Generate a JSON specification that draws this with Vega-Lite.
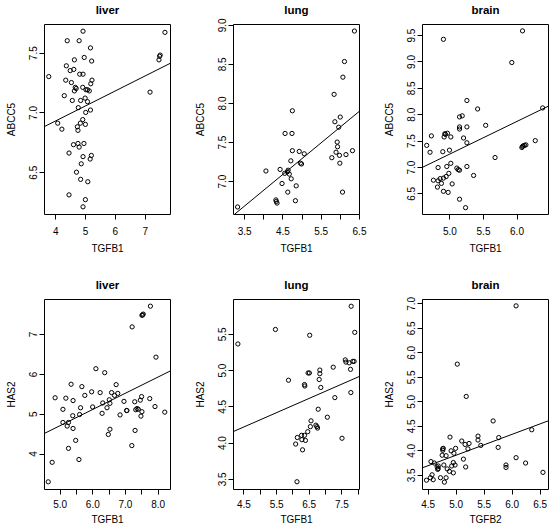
{
"$schema": "https://vega.github.io/schema/vega-lite/v6.json",
"padding": {"left": 5, "top": 3, "right": 0, "bottom": 0},
"background": "white",
"config": {
 "font": "Liberation Sans",
 "view": {"stroke": "black", "strokeWidth": 1},
 "axis": {"domain": false, "grid": false, "tickColor": "black", "tickSize": 5, "tickWidth": 1, "labelFont": "Liberation Sans", "labelFontSize": 10, "labelColor": "black", "titleFont": "Liberation Sans", "titleFontSize": 10, "titleFontWeight": "normal", "titleColor": "black", "labelOverlap": false, "labelFlush": false},
 "axisY": {"labelAngle": 270, "labelAlign": "center", "labelBaseline": "bottom", "labelPadding": 1, "titlePadding": 12},
 "axisX": {"labelPadding": 7, "titlePadding": 7.5},
 "axisTop": {"labels": false, "ticks": false, "tickSize": 0, "titleFontSize": 11.5, "titleFontWeight": "bold", "titleBaseline": "alphabetic", "titlePadding": 11}
},
"datasets": {
 "liver_ABCC5": [
  {"TGFB1":3.78,"ABCC5":7.30},{"TGFB1":4.40,"ABCC5":7.60},{"TGFB1":4.80,"ABCC5":7.60},{"TGFB1":4.93,"ABCC5":7.68},{"TGFB1":5.18,"ABCC5":7.54},{"TGFB1":4.64,"ABCC5":7.44},{"TGFB1":4.97,"ABCC5":7.46},{"TGFB1":5.22,"ABCC5":7.43},{"TGFB1":4.37,"ABCC5":7.39},{"TGFB1":4.50,"ABCC5":7.35},{"TGFB1":4.62,"ABCC5":7.36},{"TGFB1":4.82,"ABCC5":7.32},{"TGFB1":4.93,"ABCC5":7.32},{"TGFB1":4.35,"ABCC5":7.27},{"TGFB1":4.54,"ABCC5":7.25},{"TGFB1":5.23,"ABCC5":7.27},{"TGFB1":5.19,"ABCC5":7.24},{"TGFB1":4.67,"ABCC5":7.21},{"TGFB1":4.70,"ABCC5":7.20},{"TGFB1":4.92,"ABCC5":7.21},{"TGFB1":5.03,"ABCC5":7.19},{"TGFB1":5.08,"ABCC5":7.19},{"TGFB1":5.14,"ABCC5":7.18},{"TGFB1":4.64,"ABCC5":7.18},{"TGFB1":4.30,"ABCC5":7.14},{"TGFB1":4.57,"ABCC5":7.10},{"TGFB1":4.85,"ABCC5":7.10},{"TGFB1":5.00,"ABCC5":7.12},{"TGFB1":5.08,"ABCC5":7.09},{"TGFB1":4.77,"ABCC5":7.04},{"TGFB1":5.18,"ABCC5":7.02},{"TGFB1":5.02,"ABCC5":7.00},{"TGFB1":4.92,"ABCC5":6.94},{"TGFB1":4.84,"ABCC5":6.91},{"TGFB1":5.01,"ABCC5":6.90},{"TGFB1":4.08,"ABCC5":6.91},{"TGFB1":4.74,"ABCC5":6.88},{"TGFB1":4.22,"ABCC5":6.86},{"TGFB1":4.76,"ABCC5":6.85},{"TGFB1":4.61,"ABCC5":6.73},{"TGFB1":4.76,"ABCC5":6.74},{"TGFB1":4.80,"ABCC5":6.71},{"TGFB1":4.96,"ABCC5":6.74},{"TGFB1":4.46,"ABCC5":6.66},{"TGFB1":4.93,"ABCC5":6.63},{"TGFB1":5.21,"ABCC5":6.64},{"TGFB1":5.17,"ABCC5":6.61},{"TGFB1":4.87,"ABCC5":6.57},{"TGFB1":4.71,"ABCC5":6.50},{"TGFB1":4.85,"ABCC5":6.44},{"TGFB1":5.09,"ABCC5":6.42},{"TGFB1":4.46,"ABCC5":6.31},{"TGFB1":5.01,"ABCC5":6.27},{"TGFB1":4.93,"ABCC5":6.21},{"TGFB1":7.18,"ABCC5":7.17},{"TGFB1":7.48,"ABCC5":7.44},{"TGFB1":7.50,"ABCC5":7.47},{"TGFB1":7.52,"ABCC5":7.48},{"TGFB1":7.68,"ABCC5":7.67}
 ],
 "liver_ABCC5_fit": [{"TGFB1":3.62,"ABCC5":6.88},{"TGFB1":7.85,"ABCC5":7.41}],
 "lung_ABCC5": [
  {"TGFB1":3.33,"ABCC5":6.67},{"TGFB1":4.07,"ABCC5":7.13},{"TGFB1":4.44,"ABCC5":7.15},{"TGFB1":4.49,"ABCC5":6.97},{"TGFB1":4.33,"ABCC5":6.76},{"TGFB1":4.34,"ABCC5":6.74},{"TGFB1":4.36,"ABCC5":6.72},{"TGFB1":4.57,"ABCC5":7.61},{"TGFB1":4.56,"ABCC5":7.10},{"TGFB1":4.63,"ABCC5":7.12},{"TGFB1":4.65,"ABCC5":7.14},{"TGFB1":4.68,"ABCC5":7.09},{"TGFB1":4.64,"ABCC5":6.86},{"TGFB1":4.72,"ABCC5":7.26},{"TGFB1":4.73,"ABCC5":7.03},{"TGFB1":4.75,"ABCC5":7.61},{"TGFB1":4.76,"ABCC5":7.39},{"TGFB1":4.76,"ABCC5":7.90},{"TGFB1":4.86,"ABCC5":6.94},{"TGFB1":4.84,"ABCC5":6.75},{"TGFB1":4.94,"ABCC5":7.38},{"TGFB1":4.97,"ABCC5":7.23},{"TGFB1":5.00,"ABCC5":7.22},{"TGFB1":5.07,"ABCC5":7.35},{"TGFB1":5.79,"ABCC5":7.30},{"TGFB1":5.85,"ABCC5":8.11},{"TGFB1":5.87,"ABCC5":7.76},{"TGFB1":5.90,"ABCC5":7.37},{"TGFB1":5.93,"ABCC5":7.50},{"TGFB1":5.94,"ABCC5":7.44},{"TGFB1":5.97,"ABCC5":7.69},{"TGFB1":5.99,"ABCC5":7.33},{"TGFB1":6.01,"ABCC5":7.82},{"TGFB1":6.00,"ABCC5":7.23},{"TGFB1":6.07,"ABCC5":6.86},{"TGFB1":6.08,"ABCC5":8.33},{"TGFB1":6.12,"ABCC5":8.53},{"TGFB1":6.16,"ABCC5":7.34},{"TGFB1":6.33,"ABCC5":7.39},{"TGFB1":6.38,"ABCC5":8.92}
 ],
 "lung_ABCC5_fit": [{"TGFB1":3.21,"ABCC5":6.56},{"TGFB1":6.5,"ABCC5":7.89}],
 "brain_ABCC5": [
  {"TGFB1":4.66,"ABCC5":7.41},{"TGFB1":4.71,"ABCC5":7.28},{"TGFB1":4.73,"ABCC5":7.59},{"TGFB1":4.76,"ABCC5":6.75},{"TGFB1":4.83,"ABCC5":6.99},{"TGFB1":4.82,"ABCC5":6.62},{"TGFB1":4.83,"ABCC5":6.74},{"TGFB1":4.86,"ABCC5":6.78},{"TGFB1":4.88,"ABCC5":6.69},{"TGFB1":4.90,"ABCC5":7.29},{"TGFB1":4.91,"ABCC5":9.42},{"TGFB1":4.91,"ABCC5":6.79},{"TGFB1":4.91,"ABCC5":6.54},{"TGFB1":4.92,"ABCC5":7.57},{"TGFB1":4.93,"ABCC5":7.63},{"TGFB1":4.94,"ABCC5":7.62},{"TGFB1":4.95,"ABCC5":6.82},{"TGFB1":4.96,"ABCC5":7.01},{"TGFB1":4.97,"ABCC5":7.64},{"TGFB1":4.98,"ABCC5":6.52},{"TGFB1":4.99,"ABCC5":6.88},{"TGFB1":5.00,"ABCC5":7.32},{"TGFB1":5.02,"ABCC5":7.57},{"TGFB1":5.02,"ABCC5":7.07},{"TGFB1":5.04,"ABCC5":6.68},{"TGFB1":5.11,"ABCC5":6.98},{"TGFB1":5.13,"ABCC5":6.95},{"TGFB1":5.15,"ABCC5":6.94},{"TGFB1":5.15,"ABCC5":6.39},{"TGFB1":5.15,"ABCC5":7.72},{"TGFB1":5.15,"ABCC5":7.76},{"TGFB1":5.15,"ABCC5":7.95},{"TGFB1":5.19,"ABCC5":7.97},{"TGFB1":5.21,"ABCC5":7.55},{"TGFB1":5.24,"ABCC5":6.23},{"TGFB1":5.26,"ABCC5":7.76},{"TGFB1":5.26,"ABCC5":7.46},{"TGFB1":5.26,"ABCC5":7.01},{"TGFB1":5.26,"ABCC5":8.26},{"TGFB1":5.36,"ABCC5":6.84},{"TGFB1":5.42,"ABCC5":8.10},{"TGFB1":5.54,"ABCC5":7.79},{"TGFB1":5.68,"ABCC5":7.18},{"TGFB1":5.93,"ABCC5":8.98},{"TGFB1":6.09,"ABCC5":9.58},{"TGFB1":6.08,"ABCC5":7.37},{"TGFB1":6.09,"ABCC5":7.39},{"TGFB1":6.10,"ABCC5":7.40},{"TGFB1":6.12,"ABCC5":7.41},{"TGFB1":6.14,"ABCC5":7.42},{"TGFB1":6.28,"ABCC5":7.50},{"TGFB1":6.39,"ABCC5":8.12}
 ],
 "brain_ABCC5_fit": [{"TGFB1":4.59,"ABCC5":6.99},{"TGFB1":6.47,"ABCC5":8.15}],
 "liver_HAS2": [
  {"TGFB1":4.65,"HAS2":3.29},{"TGFB1":4.77,"HAS2":3.78},{"TGFB1":4.86,"HAS2":5.40},{"TGFB1":5.10,"HAS2":5.11},{"TGFB1":5.10,"HAS2":4.78},{"TGFB1":5.19,"HAS2":5.39},{"TGFB1":5.23,"HAS2":4.69},{"TGFB1":5.27,"HAS2":4.78},{"TGFB1":5.27,"HAS2":4.13},{"TGFB1":5.35,"HAS2":5.74},{"TGFB1":5.41,"HAS2":5.33},{"TGFB1":5.40,"HAS2":4.95},{"TGFB1":5.41,"HAS2":4.63},{"TGFB1":5.49,"HAS2":4.33},{"TGFB1":5.59,"HAS2":3.85},{"TGFB1":5.61,"HAS2":4.98},{"TGFB1":5.64,"HAS2":5.15},{"TGFB1":5.68,"HAS2":5.68},{"TGFB1":5.77,"HAS2":5.46},{"TGFB1":5.98,"HAS2":5.55},{"TGFB1":6.01,"HAS2":5.17},{"TGFB1":6.11,"HAS2":6.13},{"TGFB1":6.24,"HAS2":5.53},{"TGFB1":6.30,"HAS2":5.01},{"TGFB1":6.32,"HAS2":5.27},{"TGFB1":6.38,"HAS2":6.03},{"TGFB1":6.45,"HAS2":5.15},{"TGFB1":6.49,"HAS2":4.48},{"TGFB1":6.52,"HAS2":5.35},{"TGFB1":6.54,"HAS2":5.26},{"TGFB1":6.54,"HAS2":4.61},{"TGFB1":6.59,"HAS2":5.53},{"TGFB1":6.68,"HAS2":5.46},{"TGFB1":6.73,"HAS2":5.73},{"TGFB1":6.78,"HAS2":5.51},{"TGFB1":6.85,"HAS2":4.97},{"TGFB1":6.97,"HAS2":5.31},{"TGFB1":7.05,"HAS2":5.08},{"TGFB1":7.06,"HAS2":5.08},{"TGFB1":7.22,"HAS2":7.18},{"TGFB1":7.21,"HAS2":4.20},{"TGFB1":7.30,"HAS2":5.30},{"TGFB1":7.31,"HAS2":4.58},{"TGFB1":7.33,"HAS2":5.10},{"TGFB1":7.37,"HAS2":5.13},{"TGFB1":7.41,"HAS2":5.11},{"TGFB1":7.47,"HAS2":5.34},{"TGFB1":7.49,"HAS2":4.94},{"TGFB1":7.51,"HAS2":5.43},{"TGFB1":7.52,"HAS2":7.47},{"TGFB1":7.54,"HAS2":7.48},{"TGFB1":7.56,"HAS2":7.50},{"TGFB1":7.52,"HAS2":5.05},{"TGFB1":7.76,"HAS2":5.38},{"TGFB1":7.78,"HAS2":7.70},{"TGFB1":7.92,"HAS2":5.18},{"TGFB1":7.95,"HAS2":6.42},{"TGFB1":8.22,"HAS2":5.04}
 ],
 "liver_HAS2_fit": [{"TGFB1":4.52,"HAS2":4.50},{"TGFB1":8.38,"HAS2":6.07}],
 "lung_HAS2": [
  {"TGFB1":4.33,"HAS2":5.36},{"TGFB1":5.48,"HAS2":5.56},{"TGFB1":5.88,"HAS2":4.86},{"TGFB1":6.10,"HAS2":3.98},{"TGFB1":6.15,"HAS2":4.07},{"TGFB1":6.14,"HAS2":3.46},{"TGFB1":6.28,"HAS2":4.10},{"TGFB1":6.29,"HAS2":4.04},{"TGFB1":6.31,"HAS2":3.90},{"TGFB1":6.37,"HAS2":4.10},{"TGFB1":6.37,"HAS2":4.80},{"TGFB1":6.38,"HAS2":4.78},{"TGFB1":6.40,"HAS2":4.03},{"TGFB1":6.47,"HAS2":4.15},{"TGFB1":6.48,"HAS2":4.96},{"TGFB1":6.52,"HAS2":4.96},{"TGFB1":6.53,"HAS2":5.48},{"TGFB1":6.55,"HAS2":4.22},{"TGFB1":6.57,"HAS2":4.30},{"TGFB1":6.72,"HAS2":4.24},{"TGFB1":6.75,"HAS2":4.22},{"TGFB1":6.77,"HAS2":4.20},{"TGFB1":6.79,"HAS2":4.46},{"TGFB1":6.82,"HAS2":4.87},{"TGFB1":6.84,"HAS2":5.00},{"TGFB1":6.84,"HAS2":4.95},{"TGFB1":6.87,"HAS2":4.76},{"TGFB1":7.07,"HAS2":4.35},{"TGFB1":7.25,"HAS2":5.04},{"TGFB1":7.30,"HAS2":4.62},{"TGFB1":7.52,"HAS2":4.06},{"TGFB1":7.62,"HAS2":5.14},{"TGFB1":7.64,"HAS2":5.11},{"TGFB1":7.74,"HAS2":5.10},{"TGFB1":7.78,"HAS2":5.01},{"TGFB1":7.79,"HAS2":4.69},{"TGFB1":7.80,"HAS2":5.88},{"TGFB1":7.85,"HAS2":5.12},{"TGFB1":7.89,"HAS2":5.12},{"TGFB1":7.91,"HAS2":5.52}
 ],
 "lung_HAS2_fit": [{"TGFB1":4.18,"HAS2":4.15},{"TGFB1":8.04,"HAS2":4.91}],
 "brain_HAS2": [
  {"TGFB2":4.48,"HAS2":3.39},{"TGFB2":4.55,"HAS2":3.44},{"TGFB2":4.56,"HAS2":3.77},{"TGFB2":4.58,"HAS2":3.50},{"TGFB2":4.60,"HAS2":3.40},{"TGFB2":4.62,"HAS2":3.74},{"TGFB2":4.67,"HAS2":3.66},{"TGFB2":4.68,"HAS2":3.61},{"TGFB2":4.69,"HAS2":3.63},{"TGFB2":4.69,"HAS2":3.68},{"TGFB2":4.73,"HAS2":3.44},{"TGFB2":4.76,"HAS2":3.90},{"TGFB2":4.77,"HAS2":4.03},{"TGFB2":4.77,"HAS2":4.00},{"TGFB2":4.78,"HAS2":4.04},{"TGFB2":4.79,"HAS2":3.70},{"TGFB2":4.80,"HAS2":3.35},{"TGFB2":4.83,"HAS2":3.89},{"TGFB2":4.83,"HAS2":3.44},{"TGFB2":4.85,"HAS2":3.62},{"TGFB2":4.89,"HAS2":3.57},{"TGFB2":4.90,"HAS2":4.27},{"TGFB2":4.92,"HAS2":3.99},{"TGFB2":4.93,"HAS2":3.68},{"TGFB2":4.96,"HAS2":3.75},{"TGFB2":4.96,"HAS2":3.54},{"TGFB2":4.97,"HAS2":3.94},{"TGFB2":4.99,"HAS2":3.70},{"TGFB2":5.00,"HAS2":4.04},{"TGFB2":5.03,"HAS2":5.76},{"TGFB2":5.11,"HAS2":4.19},{"TGFB2":5.14,"HAS2":3.82},{"TGFB2":5.17,"HAS2":4.12},{"TGFB2":5.18,"HAS2":3.66},{"TGFB2":5.19,"HAS2":5.10},{"TGFB2":5.22,"HAS2":4.03},{"TGFB2":5.24,"HAS2":4.14},{"TGFB2":5.40,"HAS2":4.29},{"TGFB2":5.40,"HAS2":4.21},{"TGFB2":5.45,"HAS2":4.10},{"TGFB2":5.67,"HAS2":4.60},{"TGFB2":5.76,"HAS2":4.06},{"TGFB2":5.77,"HAS2":4.26},{"TGFB2":5.90,"HAS2":3.70},{"TGFB2":5.90,"HAS2":3.65},{"TGFB2":6.08,"HAS2":3.85},{"TGFB2":6.08,"HAS2":6.95},{"TGFB2":6.25,"HAS2":3.74},{"TGFB2":6.36,"HAS2":4.42},{"TGFB2":6.56,"HAS2":3.55}
 ],
 "brain_HAS2_fit": [{"TGFB2":4.40,"HAS2":3.64},{"TGFB2":6.65,"HAS2":4.60}]
},
"columns": 3,
"spacing": {"row": 85, "column": 63},
"bounds": "flush",
"concat": [
 {"width": 126, "height": 190,
  "encoding": {"y": {"field": "ABCC5", "type": "quantitative", "scale": {"domain": [6.15, 7.74], "nice": false, "zero": false}, "axis": {"values": [6.5, 7, 7.5], "format": ".1f"}}},
  "layer": [
   {"data": {"name": "liver_ABCC5"}, "mark": {"type": "point", "shape": "circle", "filled": false, "stroke": "black", "strokeWidth": 1, "size": 18, "opacity": 1},
    "encoding": {"x": {"field": "TGFB1", "type": "quantitative", "scale": {"domain": [3.62, 7.85], "nice": false, "zero": false}, "axis": {"values": [4, 5, 6, 7], "format": "d"}}}},
   {"data": {"name": "liver_ABCC5_fit"}, "mark": {"type": "line", "clip": true, "color": "black", "strokeWidth": 1},
    "encoding": {"x": {"field": "TGFB1", "type": "quantitative", "scale": {"domain": [3.62, 7.85], "nice": false, "zero": false}, "axis": {"orient": "top", "title": "liver"}}}}
  ],
  "resolve": {"axis": {"x": "independent"}}},
 {"width": 126, "height": 190,
  "encoding": {"y": {"field": "ABCC5", "type": "quantitative", "scale": {"domain": [6.58, 9.01], "nice": false, "zero": false}, "axis": {"values": [7, 7.5, 8, 8.5, 9], "format": ".1f"}}},
  "layer": [
   {"data": {"name": "lung_ABCC5"}, "mark": {"type": "point", "shape": "circle", "filled": false, "stroke": "black", "strokeWidth": 1, "size": 18, "opacity": 1},
    "encoding": {"x": {"field": "TGFB1", "type": "quantitative", "scale": {"domain": [3.21, 6.5], "nice": false, "zero": false}, "axis": {"values": [3.5, 4, 4.5, 5, 5.5, 6, 6.5], "labelExpr": "datum.value % 1 === 0.5 ? format(datum.value, '.1f') : ''"}}}},
   {"data": {"name": "lung_ABCC5_fit"}, "mark": {"type": "line", "clip": true, "color": "black", "strokeWidth": 1},
    "encoding": {"x": {"field": "TGFB1", "type": "quantitative", "scale": {"domain": [3.21, 6.5], "nice": false, "zero": false}, "axis": {"orient": "top", "title": "lung"}}}}
  ],
  "resolve": {"axis": {"x": "independent"}}},
 {"width": 126, "height": 190,
  "encoding": {"y": {"field": "ABCC5", "type": "quantitative", "scale": {"domain": [6.11, 9.71], "nice": false, "zero": false}, "axis": {"values": [6.5, 7, 7.5, 8, 8.5, 9, 9.5], "format": ".1f"}}},
  "layer": [
   {"data": {"name": "brain_ABCC5"}, "mark": {"type": "point", "shape": "circle", "filled": false, "stroke": "black", "strokeWidth": 1, "size": 18, "opacity": 1},
    "encoding": {"x": {"field": "TGFB1", "type": "quantitative", "scale": {"domain": [4.59, 6.47], "nice": false, "zero": false}, "axis": {"values": [5, 5.5, 6], "format": ".1f"}}}},
   {"data": {"name": "brain_ABCC5_fit"}, "mark": {"type": "line", "clip": true, "color": "black", "strokeWidth": 1},
    "encoding": {"x": {"field": "TGFB1", "type": "quantitative", "scale": {"domain": [4.59, 6.47], "nice": false, "zero": false}, "axis": {"orient": "top", "title": "brain"}}}}
  ],
  "resolve": {"axis": {"x": "independent"}}},
 {"width": 126, "height": 190,
  "encoding": {"y": {"field": "HAS2", "type": "quantitative", "scale": {"domain": [3.11, 7.88], "nice": false, "zero": false}, "axis": {"values": [4, 5, 6, 7], "format": "d"}}},
  "layer": [
   {"data": {"name": "liver_HAS2"}, "mark": {"type": "point", "shape": "circle", "filled": false, "stroke": "black", "strokeWidth": 1, "size": 18, "opacity": 1},
    "encoding": {"x": {"field": "TGFB1", "type": "quantitative", "scale": {"domain": [4.52, 8.38], "nice": false, "zero": false}, "axis": {"values": [5, 5.5, 6, 6.5, 7, 7.5, 8], "labelExpr": "datum.value % 1 === 0 ? format(datum.value, '.1f') : ''", "labelPadding": 5, "titlePadding": 5}}}},
   {"data": {"name": "liver_HAS2_fit"}, "mark": {"type": "line", "clip": true, "color": "black", "strokeWidth": 1},
    "encoding": {"x": {"field": "TGFB1", "type": "quantitative", "scale": {"domain": [4.52, 8.38], "nice": false, "zero": false}, "axis": {"orient": "top", "title": "liver"}}}}
  ],
  "resolve": {"axis": {"x": "independent"}}},
 {"width": 126, "height": 190,
  "encoding": {"y": {"field": "HAS2", "type": "quantitative", "scale": {"domain": [3.36, 5.98], "nice": false, "zero": false}, "axis": {"values": [3.5, 4, 4.5, 5, 5.5], "format": ".1f"}}},
  "layer": [
   {"data": {"name": "lung_HAS2"}, "mark": {"type": "point", "shape": "circle", "filled": false, "stroke": "black", "strokeWidth": 1, "size": 18, "opacity": 1},
    "encoding": {"x": {"field": "TGFB1", "type": "quantitative", "scale": {"domain": [4.18, 8.04], "nice": false, "zero": false}, "axis": {"values": [4.5, 5, 5.5, 6, 6.5, 7, 7.5, 8], "labelExpr": "datum.value % 1 === 0.5 ? format(datum.value, '.1f') : ''", "labelPadding": 5, "titlePadding": 5}}}},
   {"data": {"name": "lung_HAS2_fit"}, "mark": {"type": "line", "clip": true, "color": "black", "strokeWidth": 1},
    "encoding": {"x": {"field": "TGFB1", "type": "quantitative", "scale": {"domain": [4.18, 8.04], "nice": false, "zero": false}, "axis": {"orient": "top", "title": "lung"}}}}
  ],
  "resolve": {"axis": {"x": "independent"}}},
 {"width": 126, "height": 190,
  "encoding": {"y": {"field": "HAS2", "type": "quantitative", "scale": {"domain": [3.21, 7.09], "nice": false, "zero": false}, "axis": {"values": [3.5, 4, 4.5, 5, 5.5, 6, 6.5, 7], "format": ".1f"}}},
  "layer": [
   {"data": {"name": "brain_HAS2"}, "mark": {"type": "point", "shape": "circle", "filled": false, "stroke": "black", "strokeWidth": 1, "size": 18, "opacity": 1},
    "encoding": {"x": {"field": "TGFB2", "type": "quantitative", "scale": {"domain": [4.40, 6.65], "nice": false, "zero": false}, "axis": {"values": [4.5, 5, 5.5, 6, 6.5], "format": ".1f", "labelPadding": 5, "titlePadding": 5}}}},
   {"data": {"name": "brain_HAS2_fit"}, "mark": {"type": "line", "clip": true, "color": "black", "strokeWidth": 1},
    "encoding": {"x": {"field": "TGFB2", "type": "quantitative", "scale": {"domain": [4.40, 6.65], "nice": false, "zero": false}, "axis": {"orient": "top", "title": "brain"}}}}
  ],
  "resolve": {"axis": {"x": "independent"}}}
]
}
